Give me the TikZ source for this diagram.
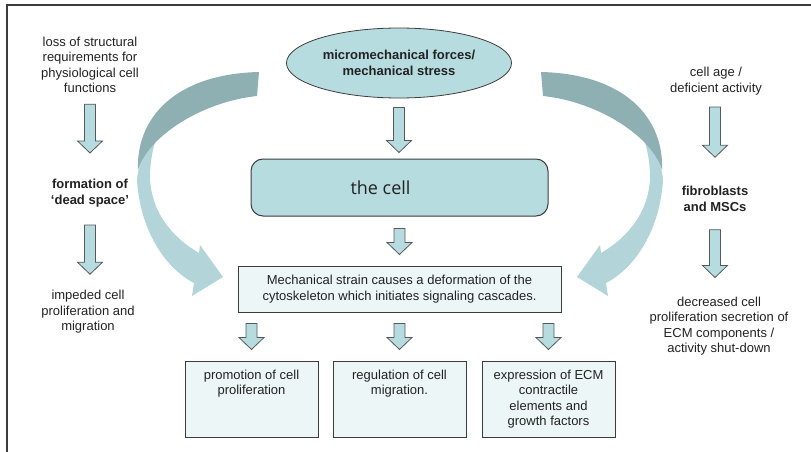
\documentclass[tikz,border=0pt]{standalone}
\usepackage{fontspec}
\setmainfont{Liberation Sans}
\newfontfamily\cellfont{Open Sans}
\usepackage{tikz}
\usetikzlibrary{shapes.geometric,calc}

\definecolor{tealfill}{HTML}{B7DCE0}
\definecolor{boxfill}{HTML}{EDF6F7}
\definecolor{ribbonlight}{HTML}{B3D4D8}
\definecolor{ribbondark}{HTML}{8FB0B3}
\definecolor{edgegray}{HTML}{3C3C3C}
\definecolor{txtgray}{HTML}{222222}

% straight block arrow pointing down, from #1 to #2
\newcommand{\blockdown}[2]{%
	\draw[blockarrow] let \p1=(#1), \p2=(#2) in
		(\x1-5.5pt,\y1) -- (\x1+5.5pt,\y1) -- (\x1+5.5pt,\y2+12pt)
		-- (\x1+12.5pt,\y2+12pt) -- (\x1,\y2) -- (\x1-12.5pt,\y2+12pt)
		-- (\x1-5.5pt,\y2+12pt) -- cycle;}

% bent ribbon arrow (left one)
\newcommand{\ribbon}{%
	\fill[ribbonlight] (172,112) .. controls (155,128) and (139,155) .. (137,180)
		.. controls (140,230) and (165,268) .. (194,283) -- (192,296) -- (223,277)
		-- (200,245) -- (199,253) .. controls (170,236) and (151,210) .. (150,178)
		.. controls (150,150) and (158,128) .. (172,112) -- cycle;
	\fill[ribbondark] (259,72) .. controls (175,74) and (136,118) .. (138,170)
		.. controls (147,138) and (200,102) .. (257,96) -- cycle;}

\begin{document}
\begin{tikzpicture}[x=1pt, y=-1pt, text=txtgray,
		font=\fontsize{13}{15.5}\selectfont,
		blockarrow/.style={fill=tealfill, draw=edgegray!85, line width=0.8pt},
		outbox/.style={draw=edgegray, line width=1pt, fill=boxfill,
			minimum width=133pt, minimum height=76pt},
		sidetext/.style={align=center, inner sep=0pt},
		boldtext/.style={sidetext, font=\fontsize{13}{15.5}\selectfont\bfseries}]
	\useasboundingbox (0,0) rectangle (811,452);

	\draw[edgegray, line width=1.2pt] (7,452) -- (7,5) -- (811,5);

	% bent arrows
	\ribbon
	\begin{scope}[xshift=800pt, xscale=-1]
		\ribbon
	\end{scope}

	% middle column
	\node[ellipse, draw=edgegray, line width=0.8pt, fill=tealfill,
		minimum width=204pt, minimum height=70pt, align=center,
		font=\fontsize{13}{15.5}\selectfont\bfseries] (stress) at (399,63)
		{micromechanical forces/\\mechanical stress};
	\node[draw=edgegray, line width=1pt, fill=tealfill, rounded corners=12pt,
		minimum width=297pt, minimum height=57pt] (cell) at (399.5,187.5) {};
	\node[font=\cellfont\fontsize{18}{20}\selectfont] (celltext)
		at ([xshift=-19pt]cell.center) {the cell};
	\node[draw=edgegray, line width=1pt, fill=boxfill, minimum width=323pt,
		minimum height=46pt, align=center] (strain) at (399.5,289)
		{Mechanical strain causes a deformation of the\\cytoskeleton which initiates signaling cascades.};

	\node[outbox] (prolif) at (251.5,399) {};
	\node[outbox] (migr) at (399.5,399) {};
	\node[outbox] (ecm) at (548.5,399) {};
	\node[sidetext, anchor=north] (prolift) at ([yshift=-9pt]prolif.north)
		{promotion of cell\\proliferation};
	\node[sidetext, anchor=north] (migrt) at ([yshift=-9pt]migr.north)
		{regulation of cell\\migration.};
	\node[sidetext, anchor=north] (ecmt) at ([yshift=-9pt]ecm.north)
		{expression of ECM\\contractile\\elements and\\growth factors};

	\blockdown{$(stress.south)+(0,9)$}{$(cell.north)+(0,-6)$}
	\blockdown{$(cell.south)+(0,12)$}{$(strain.north)+(0,-11)$}
	\blockdown{$(strain.south -| prolif.north)+(0,11)$}{$(prolif.north)+(0,-11)$}
	\blockdown{$(strain.south -| migr.north)+(0,11)$}{$(migr.north)+(0,-11)$}
	\blockdown{$(strain.south -| ecm.north)+(0,11)$}{$(ecm.north)+(0,-11)$}

	% left column
	\node[sidetext] (loss) at (90,65)
		{loss of structural\\requirements for\\physiological cell\\functions};
	\node[boldtext] (dead) at (90,193) {formation of\\`dead space'};
	\node[sidetext] (impeded) at (88,312) {impeded cell\\proliferation and\\migration};
	\blockdown{$(loss.south)+(0,11)$}{$(dead.north)+(0,-26)$}
	\blockdown{$(dead.south -| loss.south)+(0,18)$}{$(impeded.north)+(0,-16)$}

	% right column
	\node[sidetext] (age) at (716,81) {cell age /\\deficient activity};
	\node[boldtext] (fibro) at (715,199) {fibroblasts\\and MSCs};
	\node[sidetext] (decr) at (719,326)
		{decreased cell\\proliferation secretion of\\ECM components /\\activity shut-down};
	\blockdown{$(age.south -| fibro.north)+(0,12)$}{$(fibro.north)+(0,-29)$}
	\blockdown{$(fibro.south)+(0,18)$}{$(decr.north)+(0,-19)$}
\end{tikzpicture}
\end{document}
